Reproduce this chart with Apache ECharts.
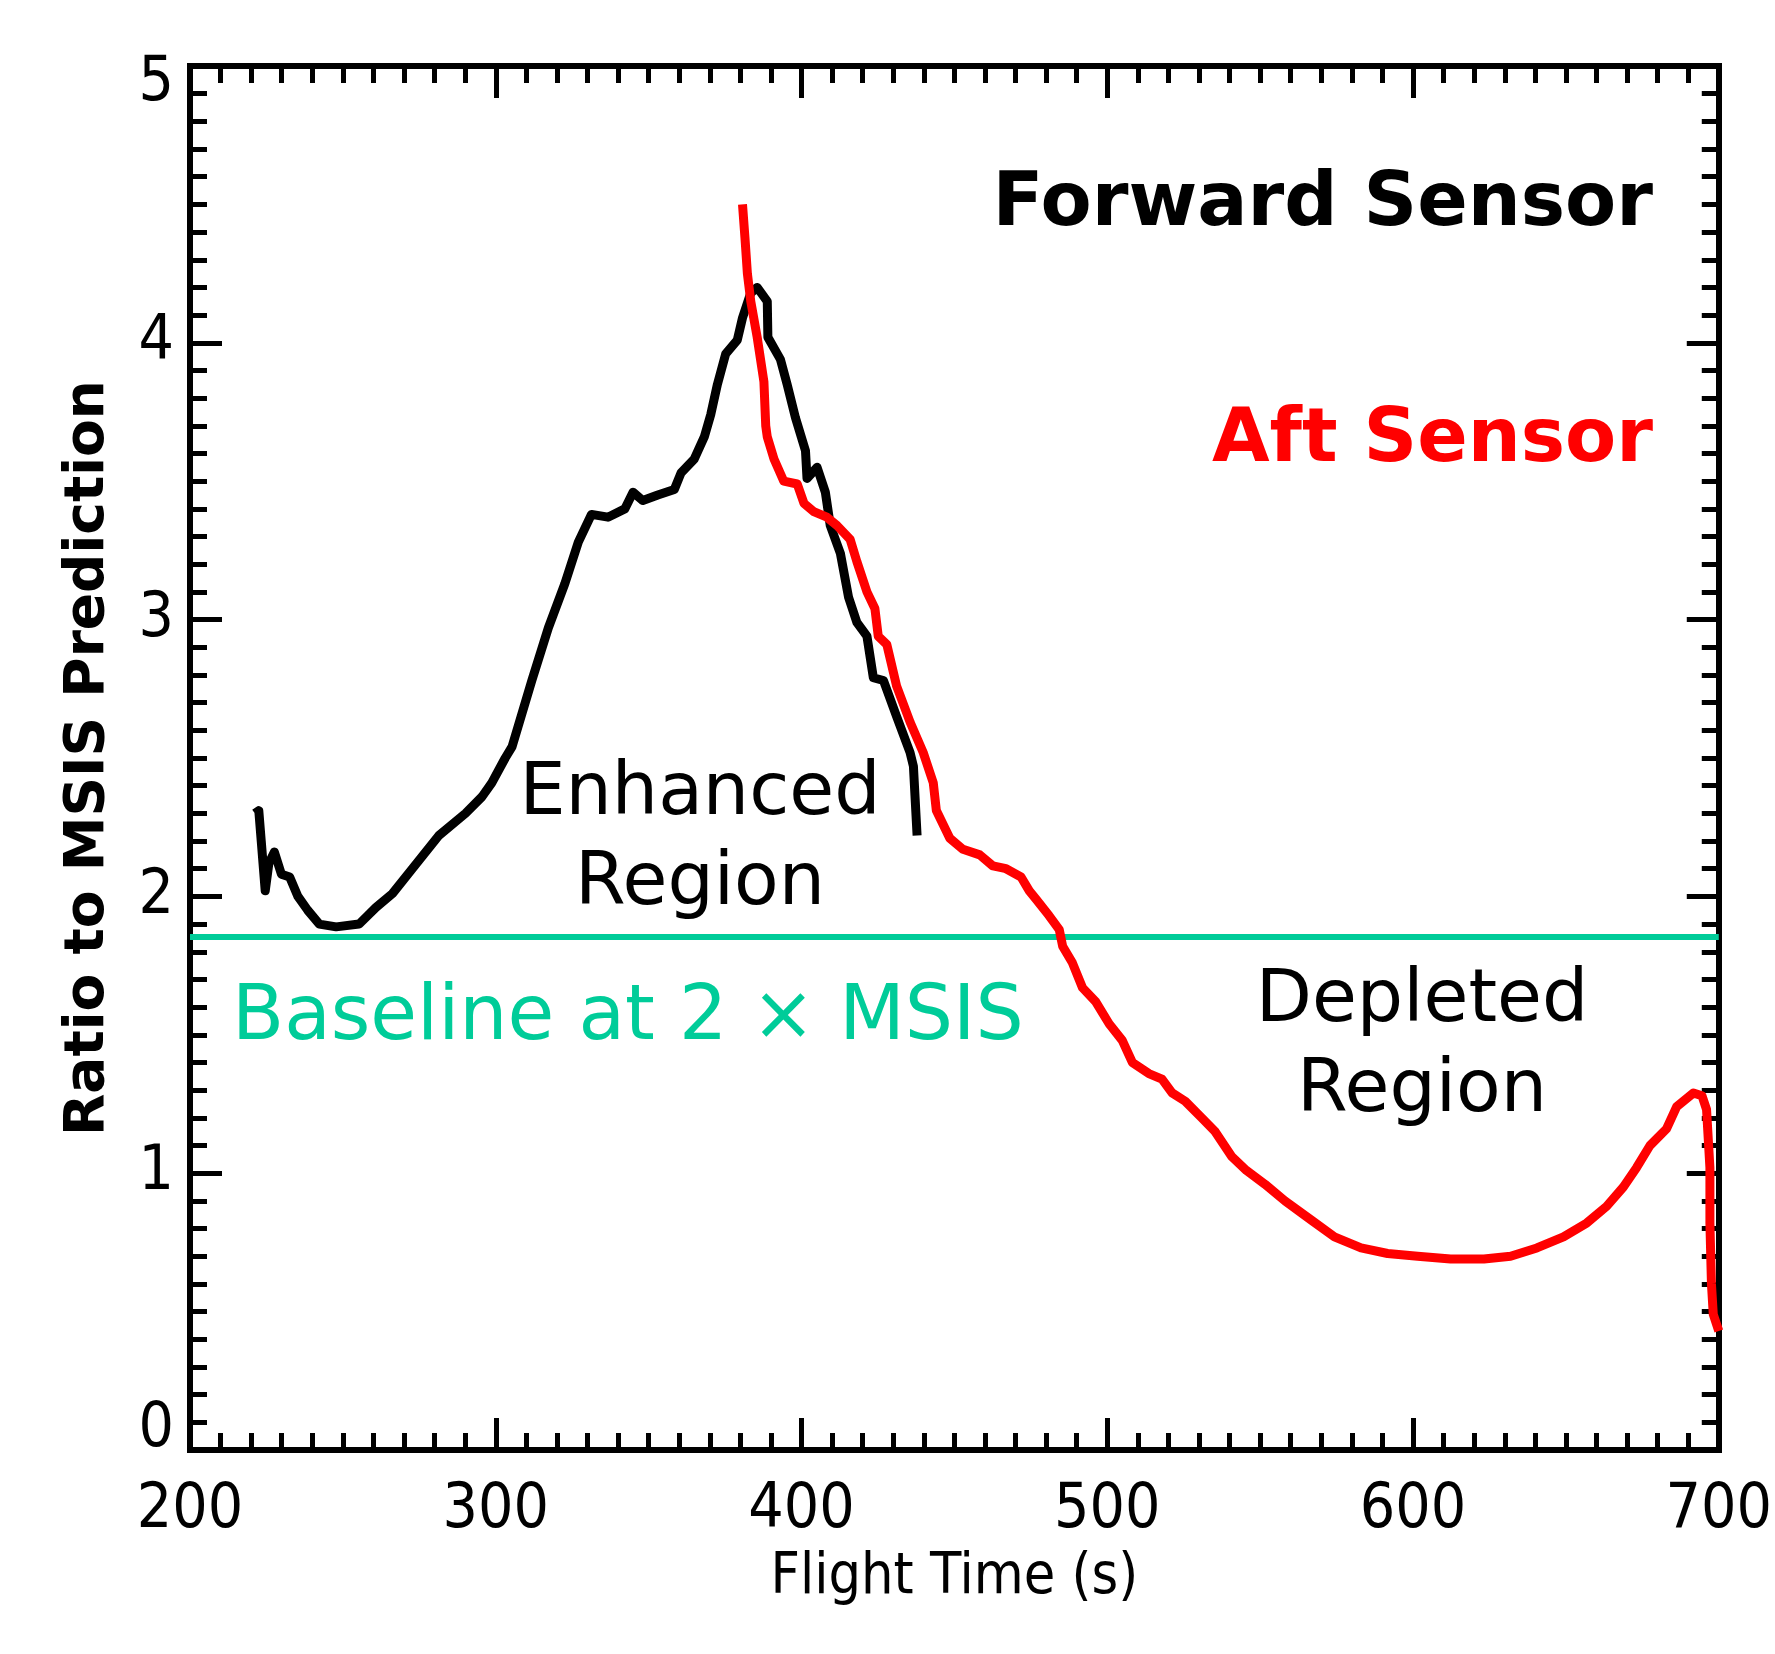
<!DOCTYPE html>
<html>
<head>
<meta charset="utf-8">
<title>Ratio to MSIS Prediction</title>
<script src="https://cdn.jsdelivr.net/npm/echarts@6/dist/echarts.min.js"></script>
<style>
  html, body { margin: 0; padding: 0; background: #fff; }
  #chart { width: 1775px; height: 1654px; }
</style>
</head>
<body>
<div id="chart"></div>
<script>
// forward sensor (black)
const forwardTime = [221.2, 222.5, 223.3, 224.6, 225.8, 227.6, 229.9, 232.6, 235.3, 238.5, 242.3, 247.8, 255.3, 260.8, 266.2, 272.7, 281.4, 290.1, 295.5, 298.7, 303.1, 305.3, 311.8, 317.2, 322.6, 327, 331.3, 336.7, 342.2, 344.9, 348.1, 353, 358.4, 360.6, 364.9, 368.2, 370.3, 372.5, 375.2, 379, 380.7, 383.4, 385.5, 388.8, 389, 393.1, 395.3, 398, 401.3, 401.8, 405.1, 407.8, 409.4, 412.7, 415.4, 418.1, 421.4, 423.5, 426.8, 431.1, 435.5, 436.6, 437.8]
const forwardRatio = [2.30, 2.31, 2.20, 2.02, 2.12, 2.16, 2.08, 2.07, 2.00, 1.95, 1.90, 1.89, 1.90, 1.96, 2.01, 2.10, 2.22, 2.30, 2.36, 2.41, 2.50, 2.54, 2.78, 2.97, 3.13, 3.28, 3.38, 3.37, 3.40, 3.46, 3.43, 3.45, 3.47, 3.53, 3.58, 3.66, 3.74, 3.85, 3.96, 4.01, 4.09, 4.18, 4.20, 4.15, 4.02, 3.94, 3.85, 3.73, 3.61, 3.51, 3.55, 3.46, 3.34, 3.24, 3.08, 2.99, 2.94, 2.79, 2.78, 2.65, 2.52, 2.47, 2.22]

// aft sensor (red)
const aftTime = [380.7, 381.5, 382.3, 383.4, 385.5, 387.7, 388.3, 388.8, 391, 394.2, 398.6, 400.8, 404, 408.3, 411.6, 415.9, 418.1, 421.4, 424, 425.1, 427.9, 431.1, 435.5, 439.8, 443.1, 444.1, 448.5, 452.8, 458.3, 462.6, 466.9, 471.8, 474.5, 476.7, 481, 484.3, 485.4, 488.6, 491.9, 496.2, 500.6, 504.9, 508.2, 513.6, 517.9, 521.2, 525.5, 530.9, 535.3, 540.7, 545.5, 551.6, 558.1, 566.8, 574.3, 583, 591.7, 601.5, 612.3, 623.2, 631.9, 640.5, 649.2, 656.8, 663.3, 668.8, 673.1, 677.5, 682.9, 686.2, 691.7, 694.5, 696, 697.1, 697.1, 697.6, 698.2, 700]
const aftRatio = [4.50, 4.38, 4.25, 4.15, 4.02, 3.86, 3.70, 3.66, 3.58, 3.50, 3.49, 3.42, 3.39, 3.37, 3.34, 3.29, 3.21, 3.10, 3.04, 2.94, 2.91, 2.76, 2.63, 2.52, 2.41, 2.31, 2.21, 2.17, 2.15, 2.11, 2.10, 2.07, 2.02, 1.99, 1.93, 1.88, 1.82, 1.76, 1.67, 1.62, 1.54, 1.48, 1.40, 1.36, 1.34, 1.29, 1.26, 1.20, 1.15, 1.06, 1.01, 0.96, 0.90, 0.83, 0.77, 0.73, 0.71, 0.70, 0.69, 0.69, 0.70, 0.73, 0.77, 0.82, 0.88, 0.95, 1.02, 1.10, 1.16, 1.24, 1.29, 1.28, 1.23, 1.02, 0.82, 0.60, 0.49, 0.43]

// baseline drawn across the whole time range
const baselineTime = [200, 700]
const baselineRatio = [1.853, 1.853]

const tickFont = "'DejaVu Sans Condensed', 'Liberation Sans Narrow', 'Liberation Sans', sans-serif"
const textFont = "'DejaVu Sans', Verdana, sans-serif"
const teal = '#00cc99'

const zip = (xs, ys) => xs.map((x, i) => [x, ys[i]])

const chart = echarts.init(document.getElementById('chart'))

// shared frame style, ticks point inward on all four sides
const frame = (extra) => Object.assign({
  type: 'value',
  splitLine: { show: false },
  axisLine: { show: true, onZero: false, lineStyle: { color: '#000', width: 6, cap: 'square' } },
  axisTick: { show: true, inside: true, length: 32, lineStyle: { color: '#000', width: 5 } },
  minorTick: { show: true, splitNumber: 10, length: 17, lineStyle: { color: '#000', width: 5 } },
  minorSplitLine: { show: false }
}, extra)

const option = {
  animation: false,
  backgroundColor: '#fff',
  grid: { left: 190, right: 47, top: 66, bottom: 204, containLabel: false },
  xAxis: [
    frame({
      position: 'bottom', min: 200, max: 700, interval: 100,
      name: 'Flight Time (s)', nameLocation: 'middle', nameGap: 100,
      nameTextStyle: { fontFamily: tickFont, fontSize: 57, color: '#000' },
      axisLabel: { margin: 30, fontFamily: tickFont, fontSize: 62, color: '#000' }
    }),
    frame({
      position: 'top', min: 200, max: 700, interval: 100,
      axisLabel: { show: false }
    })
  ],
  yAxis: [
    frame({
      position: 'left', min: 0, max: 5, interval: 1,
      name: 'Ratio to MSIS Prediction', nameLocation: 'middle', nameGap: 74,
      nameTextStyle: { fontFamily: textFont, fontWeight: 'bold', fontSize: 55, color: '#000' },
      axisLabel: {
        margin: 16, fontFamily: tickFont, fontSize: 62, color: '#000',
        formatter: v => v === 5 ? '{hi|5}' : v === 0 ? '{lo|0}' : '{n|' + v + '}',
        rich: {
          hi: { fontFamily: tickFont, fontSize: 62, padding: [36, 0, 0, 0] },
          lo: { fontFamily: tickFont, fontSize: 62, padding: [0, 0, 40, 0] },
          n: { fontFamily: tickFont, fontSize: 62 }
        }
      }
    }),
    frame({
      position: 'right', min: 0, max: 5, interval: 1,
      axisLabel: { show: false }
    })
  ],
  series: [
    {
      name: 'Baseline', type: 'line', data: zip(baselineTime, baselineRatio),
      showSymbol: false, lineStyle: { color: teal, width: 6 }, z: 2
    },
    {
      name: 'Forward Sensor', type: 'line', data: zip(forwardTime, forwardRatio),
      showSymbol: false, lineStyle: { color: '#000', width: 9, join: 'round' }, z: 3
    },
    {
      name: 'Aft Sensor', type: 'line', data: zip(aftTime, aftRatio),
      showSymbol: false, lineStyle: { color: '#ff0000', width: 9, join: 'round' }, z: 4
    }
  ],
  graphic: [
    { type: 'text', right: 122, top: 168, style: { text: 'Forward Sensor', font: 'bold 74.5px ' + textFont, fill: '#000' } },
    { type: 'text', right: 122, top: 404, style: { text: 'Aft Sensor', font: 'bold 74.5px ' + textFont, fill: '#ff0000' } },
    { type: 'text', x: 700, y: 750, style: { text: 'Enhanced\nRegion', font: '73px ' + textFont, fill: '#000', align: 'center', lineHeight: 90 } },
    { type: 'text', x: 1422, y: 957, style: { text: 'Depleted\nRegion', font: '73px ' + textFont, fill: '#000', align: 'center', lineHeight: 90 } },
    { type: 'text', x: 232, y: 981, style: { text: 'Baseline at 2 × MSIS', font: '76px ' + textFont, fill: teal } }
  ]
}

chart.setOption(option)
</script>
</body>
</html>
